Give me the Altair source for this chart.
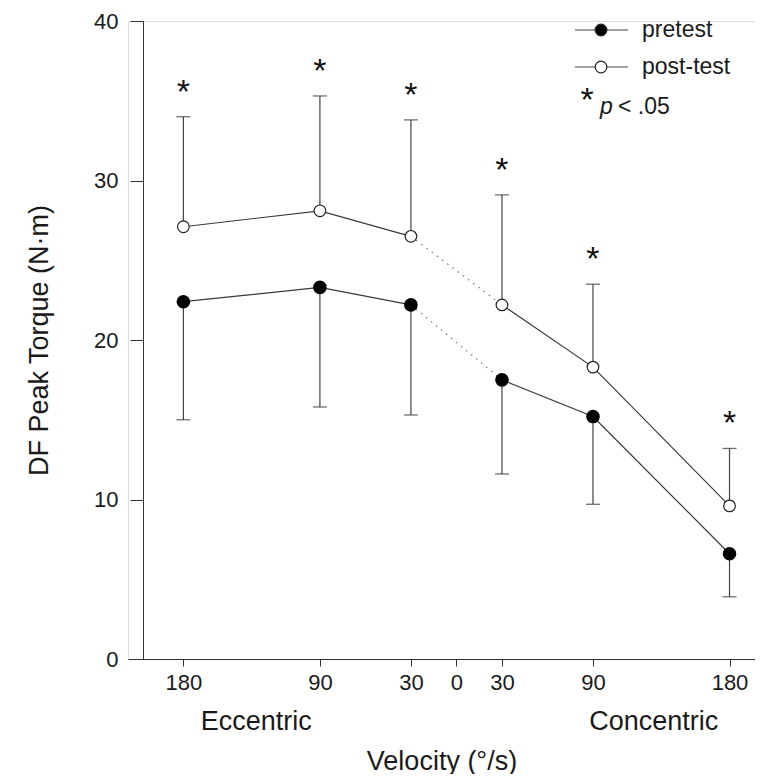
import altair as alt
import pandas as pd

FONT = "Liberation Sans"

# ---- data ----
velocity = [-180, -90, -30, 30, 90, 180]          # signed: eccentric < 0, concentric > 0
tick_values = [-180, -90, -30, 0, 30, 90, 180]
pre = [22.4, 23.3, 22.2, 17.5, 15.2, 6.6]
pre_low = [15.0, 15.8, 15.3, 11.6, 9.7, 3.9]
post = [27.1, 28.1, 26.5, 22.2, 18.3, 9.6]
post_high = [34.0, 35.3, 33.8, 29.1, 23.5, 13.2]
sig_marks = ["*", "*", "*", "*", "*", "*"]
mode_labels = ["Eccentric", "Concentric"]
mode_centers = [-132, 130]
legend_labels = ["pretest", "post-test"]

# ---- tables built from the lists ----
pts = pd.DataFrame({"v": velocity, "pre": pre, "pre_low": pre_low,
                    "post": post, "post_high": post_high, "sig": sig_marks})

rows = []
for series, vals in (("pretest", pre), ("post-test", post)):
    for v, y in zip(velocity, vals):
        seg = "ecc" if v < 0 else "con"
        rows.append({"series": series, "v": v, "y": y, "seg": series + seg})
lines_df = pd.DataFrame(rows)
bridge_df = lines_df[lines_df["v"].abs() == 30].copy()
bridge_df["seg"] = bridge_df["series"]

modes = pd.DataFrame({"label": mode_labels, "v": mode_centers})

X_DOMAIN = [-216.5, 196.8]
xs = alt.Scale(domain=X_DOMAIN, nice=False, zero=False)
ys = alt.Scale(domain=[0, 40], nice=False, zero=True)

TXT = "#1a1a1a"
x_axis = alt.Axis(values=tick_values, labelExpr="abs(datum.value)", tickSize=7,
                  labelFontSize=22, labelFont=FONT, labelColor=TXT, labelPadding=6,
                  title="Velocity (°/s)", titleFont=FONT, titleFontSize=27,
                  titleFontWeight="normal", titleColor=TXT, titlePadding=55,
                  grid=False, domainColor="#333", tickColor="#333")
y_axis = alt.Axis(values=[0, 10, 20, 30, 40], tickSize=13, labelFontSize=22,
                  labelFont=FONT, labelColor=TXT, labelPadding=12,
                  title="DF Peak Torque (N·m)", titleFont=FONT, titleFontSize=27,
                  titleFontWeight="normal", titleColor=TXT, titlePadding=40,
                  grid=False, domainColor="#333", tickColor="#333", offset=-15)

base = alt.Chart(pts)

solid = alt.Chart(lines_df).mark_line(color="#3a3a3a", strokeWidth=1.2).encode(
    x=alt.X("v:Q", scale=xs, axis=x_axis),
    y=alt.Y("y:Q", scale=ys, axis=y_axis),
    detail="seg:N", order="v:Q")

dotted = alt.Chart(bridge_df).mark_line(color="#777", strokeWidth=1.2, strokeDash=[1.5, 5]).encode(
    x=alt.X("v:Q", scale=xs), y=alt.Y("y:Q", scale=ys), detail="seg:N", order="v:Q")

post_bar = base.mark_rule(color="#444", strokeWidth=1.2).encode(
    x=alt.X("v:Q", scale=xs), y=alt.Y("post:Q", scale=ys), y2="post_high:Q")
post_cap = base.mark_tick(color="#333", orient="horizontal", size=14, thickness=1.3).encode(
    x=alt.X("v:Q", scale=xs), y=alt.Y("post_high:Q", scale=ys))
pre_bar = base.mark_rule(color="#444", strokeWidth=1.2).encode(
    x=alt.X("v:Q", scale=xs), y=alt.Y("pre:Q", scale=ys), y2="pre_low:Q")
pre_cap = base.mark_tick(color="#333", orient="horizontal", size=14, thickness=1.3).encode(
    x=alt.X("v:Q", scale=xs), y=alt.Y("pre_low:Q", scale=ys))

pre_pts = base.mark_point(filled=True, fill="black", stroke="black", size=135, opacity=1).encode(
    x=alt.X("v:Q", scale=xs), y=alt.Y("pre:Q", scale=ys))
post_pts = base.mark_point(filled=True, fill="white", stroke="#222", strokeWidth=1.2,
                           size=135, opacity=1).encode(
    x=alt.X("v:Q", scale=xs), y=alt.Y("post:Q", scale=ys))

stars = base.mark_text(fontSize=34, font=FONT, baseline="middle", dy=-24, color="#111").encode(
    x=alt.X("v:Q", scale=xs), y=alt.Y("post_high:Q", scale=ys), text="sig:N")

mode_txt = alt.Chart(modes).mark_text(fontSize=27, font=FONT, baseline="middle", color=TXT).encode(
    x=alt.X("v:Q", scale=xs), y=alt.value(701), text="label:N")

# ---- hand-drawn legend (top right) ----
leg_layers = []
for i, (lab, fillc) in enumerate(zip(legend_labels, ["black", "white"])):
    one = alt.Chart(pd.DataFrame({"label": [lab]}))
    ypix = 9 + 37 * i
    leg_layers.append(one.mark_rule(color="#444", strokeWidth=1.2).encode(
        x=alt.value(447), x2=alt.value(500), y=alt.value(ypix)))
    leg_layers.append(one.mark_point(filled=True, fill=fillc, stroke="#222", strokeWidth=1.2,
                                     size=135, opacity=1).encode(x=alt.value(473), y=alt.value(ypix)))
    leg_layers.append(one.mark_text(align="left", baseline="middle", fontSize=23, font=FONT,
                                    color=TXT).encode(x=alt.value(514), y=alt.value(ypix), text="label:N"))
one = alt.Chart(pd.DataFrame({"label": ["p"]}))
leg_layers.append(one.mark_text(align="center", baseline="middle", fontSize=34, font=FONT,
                                color="#111").encode(x=alt.value(459), y=alt.value(80), text=alt.value("*")))
leg_layers.append(one.mark_text(align="left", baseline="middle", fontSize=23, font=FONT,
                                fontStyle="italic", color=TXT).encode(x=alt.value(472), y=alt.value(86), text="label:N"))
leg_layers.append(one.mark_text(align="left", baseline="middle", fontSize=23, font=FONT,
                                color=TXT).encode(x=alt.value(490), y=alt.value(86), text=alt.value("< .05")))

chart = alt.layer(solid, dotted, post_bar, post_cap, pre_bar, pre_cap, pre_pts, post_pts,
                  stars, mode_txt, *leg_layers).properties(
    width=627, height=638,
    padding={"left": 120, "top": 13, "right": 0, "bottom": 115},
    autosize=alt.AutoSizeParams(type="none"),
).configure_view(stroke=None).configure(background="white")

chart.save("out.html", embed_options={"renderer": "svg", "actions": False})
